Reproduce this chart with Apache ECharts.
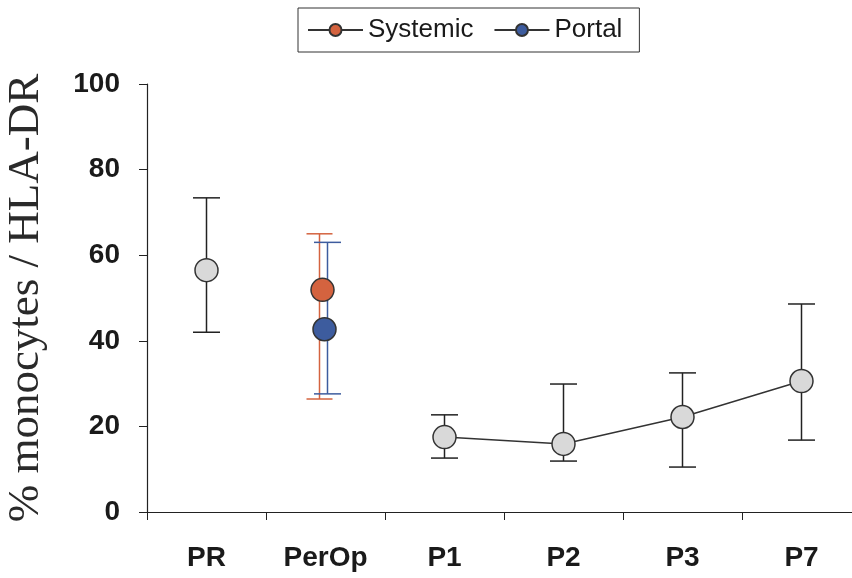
<!DOCTYPE html>
<html>
<head>
<meta charset="utf-8">
<script src="https://cdn.jsdelivr.net/npm/echarts@6/dist/echarts.min.js"></script>
<style>
  html, body { margin: 0; padding: 0; background: #fff; }
  #chart { width: 852px; height: 578px; }
</style>
</head>
<body>
<div id="chart"></div>
<script>
const categories = ['PR', 'PerOp', 'P1', 'P2', 'P3', 'P7'];

// overall (grey) series
const overallMean = [56.5, null, 17.5, 15.9, 22.2, 30.6];
const overallLow = [42.0, null, 12.6, 11.9, 10.5, 16.8];
const overallHigh = [73.4, null, 22.7, 29.9, 32.5, 48.6];

// PerOp only
const systemicMean = [null, 51.9, null, null, null, null];
const systemicLow = [null, 26.4, null, null, null, null];
const systemicHigh = [null, 65.0, null, null, null, null];

const portalMean = [null, 42.7, null, null, null, null];
const portalLow = [null, 27.6, null, null, null, null];
const portalHigh = [null, 63.0, null, null, null, null];

const yTicks = [0, 20, 40, 60, 80, 100];

function barData(low, high) {
  const out = [];
  low.forEach(function (l, i) {
    if (l != null) out.push([i, l, high[i]]);
  });
  return out;
}

function errorBars(offset, color, capW) {
  return function (params, api) {
    const lo = api.coord([api.value(0), api.value(1)]);
    const hi = api.coord([api.value(0), api.value(2)]);
    const x = lo[0] + offset;
    const style = { stroke: color, lineWidth: 1.5 };
    return {
      type: 'group',
      children: [
        { type: 'line', shape: { x1: x, y1: lo[1], x2: x, y2: hi[1] }, style: style },
        { type: 'line', shape: { x1: x - capW / 2, y1: lo[1], x2: x + capW / 2, y2: lo[1] }, style: style },
        { type: 'line', shape: { x1: x - capW / 2, y1: hi[1], x2: x + capW / 2, y2: hi[1] }, style: style }
      ]
    };
  };
}

const chart = echarts.init(document.getElementById('chart'));

const red = '#d4633f';
const blue = '#3d5c9e';

chart.setOption({
  animation: false,
  backgroundColor: '#fff',
  legend: {
    top: 8,
    left: 298,
    data: ['Systemic', 'Portal'],
    borderColor: '#333',
    borderWidth: 1,
    padding: [9, 17, 9, 9],
    itemWidth: 55,
    itemHeight: 15,
    itemGap: 20,
    textStyle: { fontFamily: 'Liberation Sans, Arial', fontSize: 26, color: '#1a1a1a' }
  },
  grid: {
    left: 147,
    top: 84,
    bottom: 66,
    width: 714,
    containLabel: false,
    outerBoundsMode: 'none'
  },
  xAxis: {
    type: 'category',
    data: categories,
    boundaryGap: true,
    axisLine: { lineStyle: { color: '#222', width: 1.2 } },
    axisTick: { show: true, length: 8, lineStyle: { color: '#222' } },
    axisLabel: {
      margin: 32,
      fontFamily: 'Liberation Sans, Arial',
      fontWeight: 'bold',
      fontSize: 28,
      color: '#1a1a1a'
    },
    splitLine: { show: false }
  },
  yAxis: {
    type: 'value',
    min: 0,
    max: 100,
    interval: 20,
    name: '% monocytes / HLA-DR',
    nameLocation: 'middle',
    nameGap: 98,
    nameTextStyle: { fontFamily: 'Liberation Serif, Times New Roman', fontSize: 45, color: '#2a2a2a' },
    axisLine: { show: true, lineStyle: { color: '#222', width: 1.2 } },
    axisTick: { show: true, length: 8, lineStyle: { color: '#222' } },
    axisLabel: {
      margin: 27,
      fontFamily: 'Liberation Sans, Arial',
      fontWeight: 'bold',
      fontSize: 28,
      color: '#1a1a1a',
      formatter: function (v) { return yTicks.indexOf(v) >= 0 ? String(v) : ''; }
    },
    splitLine: { show: false }
  },
  series: [
    {
      type: 'custom',
      name: 'overallErr',
      renderItem: errorBars(0, '#222', 27),
      data: barData(overallLow, overallHigh),
      z: 1,
      silent: true
    },
    {
      type: 'custom',
      name: 'systemicErr',
      renderItem: errorBars(-6, red, 26),
      data: barData(systemicLow, systemicHigh),
      z: 1,
      silent: true
    },
    {
      type: 'custom',
      name: 'portalErr',
      renderItem: errorBars(2, blue, 27),
      data: barData(portalLow, portalHigh),
      z: 1,
      silent: true
    },
    {
      type: 'line',
      name: 'Overall',
      data: overallMean,
      connectNulls: false,
      symbol: 'circle',
      symbolSize: 23,
      lineStyle: { color: '#333', width: 1.5 },
      itemStyle: { color: '#d9d9d9', borderColor: '#333', borderWidth: 1.5 },
      z: 3
    },
    {
      type: 'line',
      name: 'Systemic',
      data: systemicMean,
      symbol: 'circle',
      symbolSize: 23,
      symbolOffset: [-3, 0],
      lineStyle: { color: '#333', width: 1.5 },
      itemStyle: { color: red, borderColor: '#333', borderWidth: 1.5 },
      z: 4
    },
    {
      type: 'line',
      name: 'Portal',
      data: portalMean,
      symbol: 'circle',
      symbolSize: 23,
      symbolOffset: [-1, 0],
      lineStyle: { color: '#333', width: 1.5 },
      itemStyle: { color: blue, borderColor: '#333', borderWidth: 1.5 },
      z: 4
    }
  ]
});
</script>
</body>
</html>
